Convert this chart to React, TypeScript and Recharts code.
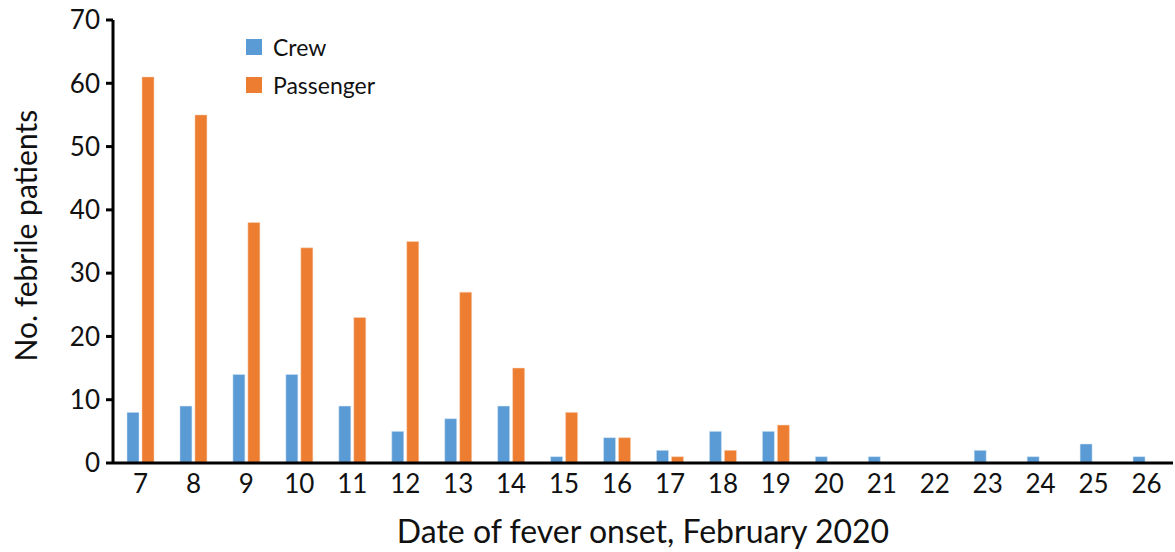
import React from 'react';
import { BarChart, Bar, XAxis, YAxis } from 'recharts';

// Fever onset per day, February 2020
const days = ['7', '8', '9', '10', '11', '12', '13', '14', '15', '16', '17', '18', '19', '20', '21', '22', '23', '24', '25', '26'];
const crew = [8, 9, 14, 14, 9, 5, 7, 9, 1, 4, 2, 5, 5, 1, 1, 0, 2, 1, 3, 1];
const passenger = [61, 55, 38, 34, 23, 35, 27, 15, 8, 4, 1, 2, 6, 0, 0, 0, 0, 0, 0, 0];
const yTicks = [0, 10, 20, 30, 40, 50, 60, 70];
const seriesNames = ['Crew', 'Passenger'];

const data = days.map((day, i) => ({ day, crew: crew[i], passenger: passenger[i] }));

const FONT = 'Lato, "Open Sans", sans-serif';
const CREW = '#5B9BD5';
const PASSENGER = '#ED7D31';
const colors = [CREW, PASSENGER];

// legend sits inside the plot, top-left, as in the source figure
const LegendBox = () => (
    <div style={{ position: 'absolute', left: 246, top: 28, fontFamily: FONT, fontSize: 23, color: '#111', lineHeight: '38px' }}>
        {seriesNames.map((name, i) => (
            <div key={name} style={{ display: 'flex', alignItems: 'center' }}>
                <span style={{ width: 16, height: 16, background: colors[i], display: 'inline-block', marginRight: 11 }} />
                {name}
            </div>
        ))}
    </div>
);

export default function App() {
    return (
        <div style={{ position: 'absolute', left: 0, top: 0, width: 1175, height: 552, background: '#fff' }}>
            <BarChart
                width={1175}
                height={552}
                data={data}
                margin={{ top: 20, right: 2, left: 0, bottom: 0 }}
                barSize={12}
                barGap={3}
            >
                <XAxis
                    dataKey="day"
                    height={89}
                    padding={{ left: 1, right: 0 }}
                    axisLine={{ stroke: '#000', strokeWidth: 3 }}
                    tickLine={false}
                    tick={{ fill: '#111', fontSize: 26, fontFamily: FONT }}
                    tickMargin={6}
                    label={{ value: 'Date of fever onset, February 2020', position: 'insideBottom', offset: 9, fill: '#111', fontSize: 32, fontFamily: FONT }}
                />
                <YAxis
                    width={113}
                    domain={[0, 70]}
                    ticks={yTicks}
                    interval={0}
                    axisLine={{ stroke: '#000', strokeWidth: 3 }}
                    tickLine={{ stroke: '#000', strokeWidth: 3 }}
                    tickSize={7}
                    tickMargin={6}
                    tick={{ fill: '#111', fontSize: 26, fontFamily: FONT }}
                    label={{ value: 'No. febrile patients', angle: -90, position: 'insideLeft', offset: 0, dx: 26, dy: 120, fill: '#111', fontSize: 30, fontFamily: FONT }}
                />
                <Bar dataKey="crew" name="Crew" fill={CREW} stroke="#d6e6f5" strokeWidth={0.5} isAnimationActive={false} />
                <Bar dataKey="passenger" name="Passenger" fill={PASSENGER} stroke="#f8d6bd" strokeWidth={0.5} isAnimationActive={false} />
            </BarChart>
            <LegendBox />
        </div>
    );
}
